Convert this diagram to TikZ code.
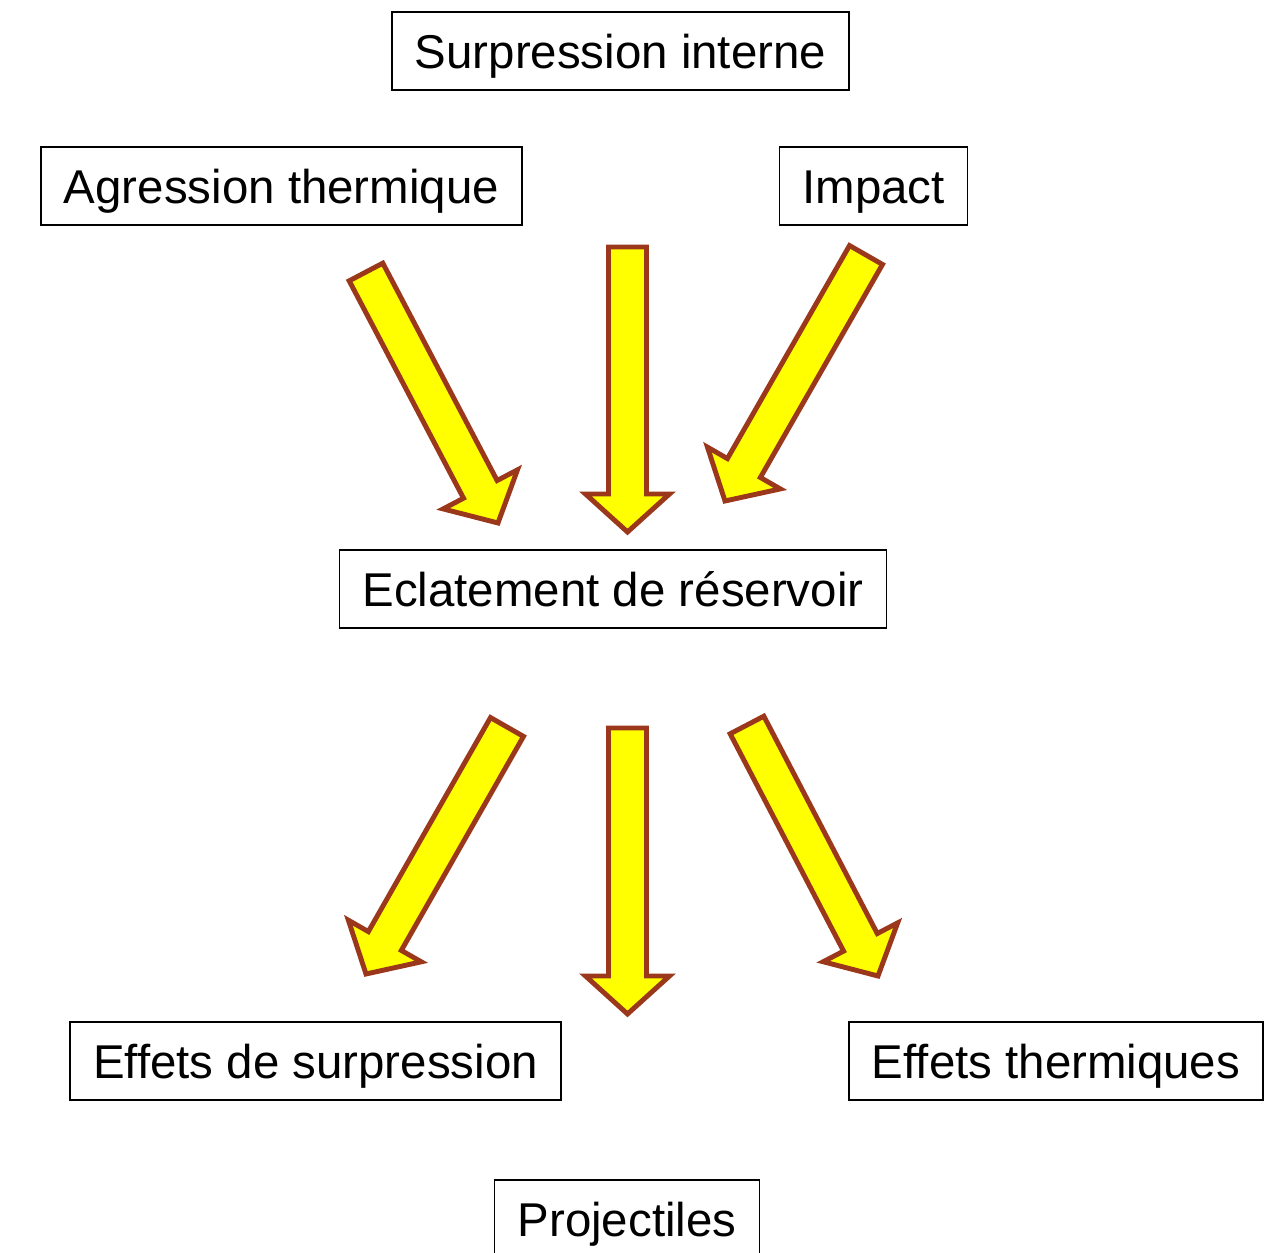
\documentclass[tikz,border=0pt]{standalone}
\usepackage{fontspec}
\setmainfont{Liberation Sans}
\usetikzlibrary{calc}
\definecolor{brique}{RGB}{155,56,28}
\definecolor{jaune}{RGB}{255,255,0}

% fleche pleine de (#2) vers (#3)
\newcommand{\grossefleche}[3]{%
  \coordinate (#1-b) at ($(#3)!0.76cm!(#2)$);
  \draw[fleche] ($(#2)!0.38cm!90:(#3)$) -- ($(#1-b)!0.38cm!-90:(#2)$)
    -- ($(#1-b)!0.84cm!-90:(#2)$) -- (#3)
    -- ($(#1-b)!0.84cm!90:(#2)$) -- ($(#1-b)!0.38cm!90:(#2)$)
    -- ($(#2)!0.38cm!-90:(#3)$) -- cycle;
}

\begin{document}
\begin{tikzpicture}[x=0.02cm, y=-0.02cm,
    boite/.style={draw, line width=0.9pt, inner xsep=0.46cm, inner ysep=0pt, minimum height=1.56cm,
      font=\fontsize{27}{32}\selectfont, text height=19.4pt, text depth=0pt},
    fleche/.style={fill=jaune, draw=brique, line width=2.8pt, line join=miter}]
    \useasboundingbox (0,0) rectangle (1276,1253);

    % Causes
    \node[boite] (surp) at (620.5,51) {Surpression interne};
    \node[boite] (agr) at (281.5,186) {Agression thermique};
    \node[boite] (imp) at (873.5,186) {Impact};

    % Evenement central
    \node[boite] (ecl) at (613,589) {Eclatement de réservoir};

    % Effets
    \node[boite] (effs) at (315.5,1061) {Effets de surpression};
    \node[boite] (efft) at (1056,1061) {Effets thermiques};
    \node[boite] (proj) at (627,1219) {Projectiles};

    % Extremites des fleches
    \coordinate (a1) at (366,272);   \coordinate (b1) at (498,523);
    \coordinate (a2) at (627.5,247); \coordinate (b2) at (627.5,532);
    \coordinate (a3) at (866,255);   \coordinate (b3) at (725,501);
    \coordinate (a4) at (507,727);   \coordinate (b4) at (366,974);
    \coordinate (a5) at (627.5,728); \coordinate (b5) at (627.5,1014);
    \coordinate (a6) at (747,725);   \coordinate (b6) at (878,976);

    \grossefleche{f1}{a1}{b1}
    \grossefleche{f2}{a2}{b2}
    \grossefleche{f3}{a3}{b3}
    \grossefleche{f4}{a4}{b4}
    \grossefleche{f5}{a5}{b5}
    \grossefleche{f6}{a6}{b6}
\end{tikzpicture}
\end{document}
